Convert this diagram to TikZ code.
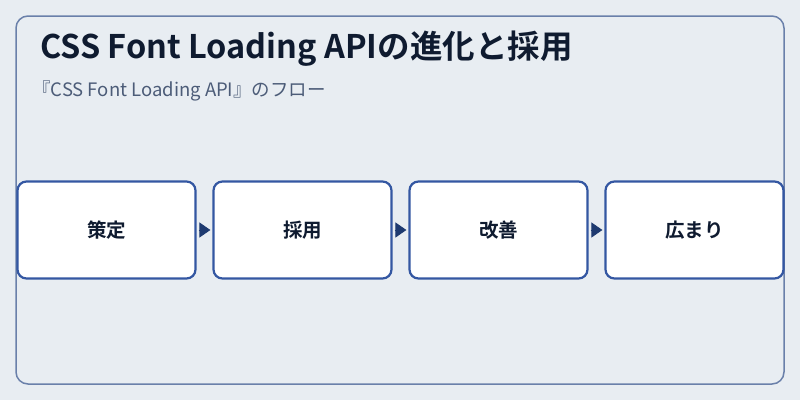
\documentclass[tikz,border=0pt]{standalone}
\usepackage{fontspec}
\setmainfont{Noto Sans CJK JP}
\newfontfamily\jpbold{Noto Sans CJK JP Bold}
\newfontfamily\jplight{Noto Sans CJK JP Light}
\usetikzlibrary{arrows.meta}
\definecolor{bgc}{HTML}{E8EDF2}
\definecolor{framec}{HTML}{6A80AA}
\definecolor{boxc}{HTML}{3457A2}
\definecolor{arrowc}{HTML}{1E3A70}
\definecolor{titlec}{HTML}{0F1B30}
\definecolor{subc}{HTML}{4C5C78}
\tikzset{
  stepbox/.style={draw=boxc, line width=2.2pt, fill=white, rounded corners=9pt,
    minimum width=178pt, minimum height=97pt, inner sep=0pt,
    font=\jpbold\fontsize{19.5}{22}\selectfont, text=titlec},
  flowarrow/.style={draw=arrowc, line width=1pt, shorten <=2pt, shorten >=2pt,
    -{Triangle[length=11pt,width=15pt]}, arrowc}
}
\begin{document}
\begin{tikzpicture}[x=1pt,y=-1pt]
\useasboundingbox (0,0) rectangle (800,400);
\fill[bgc] (0,0) rectangle (800,400);
\draw[framec, line width=1.5pt, rounded corners=12pt] (16,16) rectangle (784,384);
\node[anchor=base west, text=titlec, font=\jpbold\fontsize{32.5}{36}\selectfont, inner sep=0pt] (title) at (40,58) {CSS Font Loading APIの進化と採用};
\node[anchor=base west, text=subc, font=\fontsize{18.5}{22}\selectfont, inner sep=0pt] (sub) at (32,96) {『CSS Font Loading API』のフロー};
\node[stepbox] (s1) at (106.5,230) {\raisebox{-2pt}{策定}};
\node[stepbox] (s2) at (302.5,230) {\raisebox{-2pt}{採用}};
\node[stepbox] (s3) at (498.5,230) {\raisebox{-2pt}{改善}};
\node[stepbox] (s4) at (694.5,230) {\raisebox{-2pt}{広まり}};
\draw[flowarrow] (s1) -- (s2);
\draw[flowarrow] (s2) -- (s3);
\draw[flowarrow] (s3) -- (s4);
\end{tikzpicture}
\end{document}
